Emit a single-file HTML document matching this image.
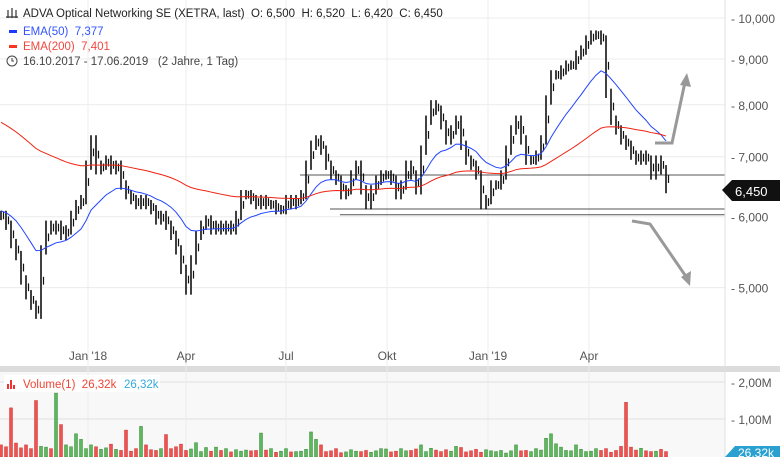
<!DOCTYPE html>
<html><head><meta charset="utf-8"><style>
body{margin:0;background:#fff;font-family:"Liberation Sans",sans-serif}
svg text{font-family:"Liberation Sans",sans-serif;white-space:pre}
</style></head><body>
<svg id="c" width="780" height="457" viewBox="0 0 780 457" xmlns="http://www.w3.org/2000/svg" xml:space="preserve">
<rect x="0" y="0" width="780" height="457" fill="#fff"/>
<rect x="0" y="372" width="725" height="85" fill="#f8f8f8"/>
<rect x="0" y="366" width="780" height="6" fill="#dcdcdc"/>
<g id="grid"></g>
<g id="levels"></g>
<g id="vol"></g>
<g id="bars"></g>
<g id="emas"></g>
<line x1="725" y1="0" x2="725" y2="457" stroke="#e0e0e0"/>
<g id="axes" font-size="12" fill="#555"></g>
<g stroke="#999" stroke-width="3" fill="none">
<polyline points="655,143 672,143 685,82"/><polygon points="680,85 687,73 691,87" fill="#999" stroke="none"/>
</g>
<g stroke="#999" stroke-width="3" fill="none">
<polyline points="632,221 650,224 687,278"/><polygon points="681,277 690,286 691,271" fill="#999" stroke="none"/>
</g>
<g>
<polygon points="722,190 732,180 780,180 780,201 732,201" fill="#111"/>
<text x="735" y="196" font-size="13" fill="#fff">6,450</text>
</g>
<g font-size="11.5">
<g stroke="#333" stroke-width="1.2"><line x1="8" y1="10" x2="8" y2="18"/><line x1="12" y1="8" x2="12" y2="18"/><line x1="16" y1="10" x2="16" y2="18"/><line x1="6" y1="17" x2="18" y2="17"/></g>
<text x="23" y="17" fill="#222">ADVA Optical Networking SE (XETRA, last)  O: 6,500  H: 6,520  L: 6,420  C: 6,450</text>
<rect x="9" y="30" width="8" height="3" fill="#1a3cff"/><text x="23" y="35" fill="#3355ff">EMA(50)  7,377</text>
<rect x="9" y="45" width="8" height="3" fill="#ff3322"/><text x="23" y="50" fill="#f0483e">EMA(200)  7,401</text>
<circle cx="12" cy="61" r="5" fill="none" stroke="#444"/><path d="M12 58v3h2" stroke="#444" fill="none"/>
<text x="23" y="65" fill="#444">16.10.2017 - 17.06.2019   (2 Jahre, 1 Tag)</text>
</g>
<g font-size="11.5">
<rect x="4" y="375" width="156" height="17" fill="#fff"/>
<rect x="7" y="384" width="2" height="5" fill="#e33"/><rect x="10" y="380" width="2" height="9" fill="#e33"/><rect x="13" y="385" width="2" height="4" fill="#e33"/>
<text x="23" y="388" fill="#ee4433">Volume(1)  26,32k</text><text x="124" y="388" fill="#33aadd">26,32k</text>
</g>
<g><polygon points="725,457 735,446 780,446 780,457" fill="#2aa0d0"/><text x="738" y="457" font-size="12" fill="#fff">26,32k</text></g>
</svg>
<script>
const closes=[6.02,5.87,5.60,5.43,5.10,4.91,4.78,4.67,5.51,5.87,5.80,5.87,5.72,5.80,6.02,6.19,6.27,6.85,7.31,6.77,6.85,6.94,6.77,6.85,6.51,6.35,6.27,6.19,6.27,6.19,6.11,5.95,6.02,5.87,5.72,5.51,5.24,4.97,5.37,5.72,5.87,5.95,5.80,5.87,5.80,5.87,5.80,6.02,6.35,6.35,6.27,6.19,6.27,6.19,6.19,6.11,6.11,6.27,6.19,6.27,6.35,6.85,7.21,7.31,7.12,6.85,6.68,6.59,6.35,6.43,6.68,6.85,6.43,6.19,6.43,6.59,6.68,6.68,6.59,6.35,6.51,6.85,6.68,6.43,7.12,7.69,8.00,7.89,7.60,7.31,7.50,7.69,7.21,6.94,6.85,6.68,6.19,6.27,6.51,6.51,6.68,7.12,7.50,7.69,7.31,6.94,6.94,7.03,7.31,8.10,8.64,8.64,8.75,8.86,8.86,9.09,9.21,9.45,9.57,9.57,9.45,8.24,7.69,7.50,7.31,7.21,7.03,6.94,7.03,6.94,6.68,6.94,6.77,6.45];
const volumes=[300,250,1300,350,220,300,200,1500,260,240,200,1700,850,300,250,600,450,200,300,250,180,220,320,180,150,700,130,200,800,300,170,150,200,580,200,250,320,150,190,360,120,230,130,240,150,200,110,170,130,160,140,150,620,160,200,100,130,200,110,120,130,180,650,450,300,120,140,200,90,110,170,130,120,150,100,140,200,190,110,130,200,140,150,190,300,120,210,160,120,170,130,260,230,110,140,180,100,170,140,120,150,80,140,300,140,150,120,200,160,480,600,330,240,150,140,300,180,120,130,200,150,200,100,150,260,1450,240,160,210,140,120,130,180,120];
const ticksP=[5,6,7,8,9,10];
const ticksPL=["5,000","6,000","7,000","8,000","9,000","10,000"];
const ticksV=[1,2];
const ticksVL=["1,00M","2,00M"];
const monthsL=["Jan '18","Apr","Jul","Okt","Jan '19","Apr"];
const monthsIdx=[17.4,37,57,77.2,97.4,117.6];
const NS="http://www.w3.org/2000/svg";
const xS=i=>i*5+1;
const yS=p=>18+389*Math.log(10/p);
const yV=v=>456-v*0.037;
function mk(t,a,par){const e=document.createElementNS(NS,t);for(const k in a)e.setAttribute(k,a[k]);document.getElementById(par).appendChild(e);return e;}
ticksP.forEach((p,i)=>{const y=yS(p);
 const g=mk('line',{x1:0,x2:725,y1:y,y2:y,stroke:'#ececec'},'grid');
 
 
 const t=mk('text',{x:731,y:y+5},'axes');t.textContent='- '+ticksPL[i];
 
 });
ticksV.forEach((v,i)=>{const y=yV(v*1000);
 const g=mk('line',{x1:0,x2:725,y1:y,y2:y,stroke:'#e0e0e0'},'grid');
 
 
 const t=mk('text',{x:731,y:y+5},'axes');t.textContent='- '+ticksVL[i];
 
 });
monthsIdx.forEach((m,i)=>{const x=xS(m);
 const g=mk('line',{x1:x,x2:x,y1:0,y2:457,stroke:'#ececec'},'grid');
 
 
 const t=mk('text',{x:x,y:360,'text-anchor':'middle'},'axes');t.textContent=monthsL[i];
 
 });
[[300,6.68],[330,6.12],[340,6.03]].forEach(l=>{const y=yS(l[1]);
 const e=mk('line',{x1:l[0],x2:725,y1:y,y2:y,stroke:'#555','stroke-width':1},'levels');
 
 });
closes.forEach((c,i)=>{const pv=i?closes[i-1]:c;const hi=Math.max(c,pv)*1.012,lo=Math.min(c,pv)*0.988;
 const x=xS(i);
 const e=mk('line',{x1:x,x2:x,y1:yS(hi),y2:yS(lo),stroke:'#111','stroke-width':1.6},'bars');
 
 
 const e2=mk('line',{x1:x+2.5,x2:x+2.5,y1:yS((c+pv)/2*1.01),y2:yS((c+pv)/2*0.99),stroke:'#111','stroke-width':1.2},'bars');
 
 });
volumes.forEach((v,i)=>{const up=i>0&&closes[i]>=closes[i-1];
 const x=xS(i);
 const r=mk('rect',{x:x-1.5,y:yV(v),width:3,height:456-yV(v)+1,fill:up?'#5cb85c':'#ef5350',stroke:up?'#3a8a3a':'#c33','stroke-width':0.5},'vol');
 
 });
function ema(per,init){let e=init;const a=2/(per/3.2+1);return closes.map(c=>(e=e+a*(c-e)));}
[[50,6.1,'#2244ff','ema50-line'],[200,7.7,'#ee2211','ema200-line']].forEach(s=>{
 const v=ema(s[0],s[1]);
 const p=mk('polyline',{points:v.map((e,i)=>xS(i)+','+yS(e)).join(' '),fill:'none',stroke:s[2],'stroke-width':1},'emas');
 
 });
</script>
</body></html>
